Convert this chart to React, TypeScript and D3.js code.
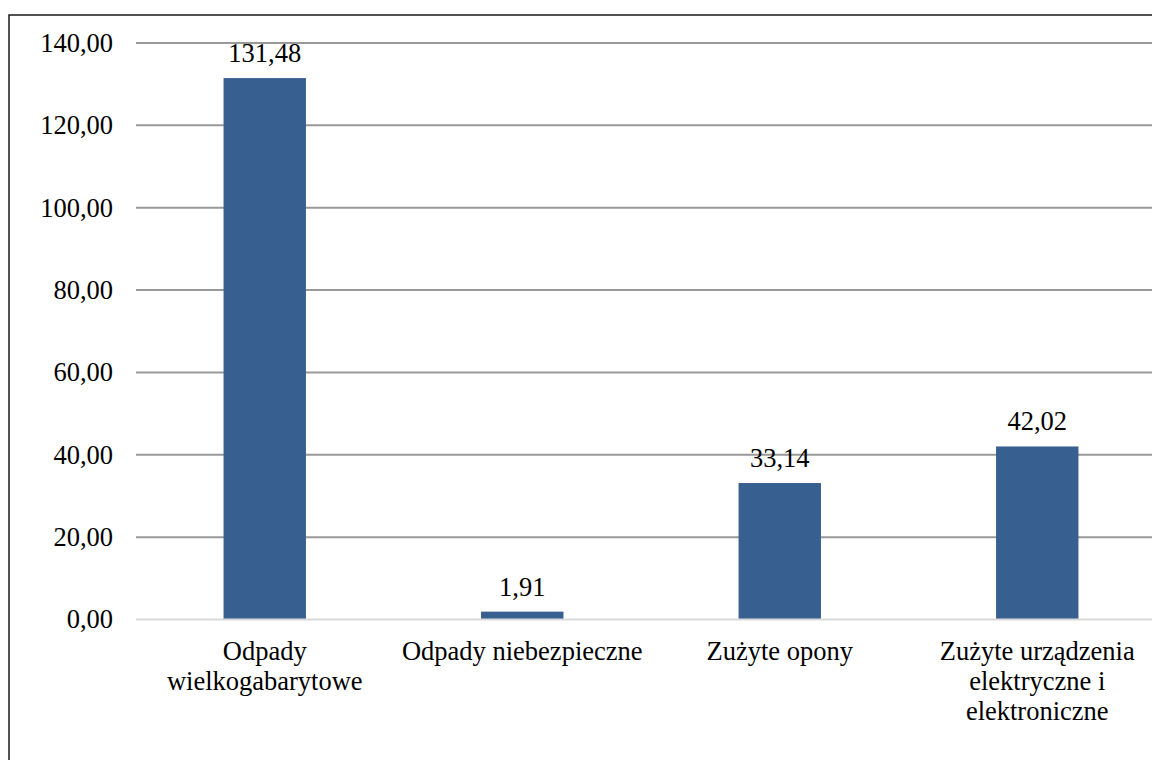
import React, { useEffect, useRef } from 'react';
import * as d3 from 'd3';

const categories = [
  'Odpady wielkogabarytowe',
  'Odpady niebezpieczne',
  'Zużyte opony',
  'Zużyte urządzenia elektryczne i elektroniczne',
];
// category label lines as wrapped in the picture
const categoryLines = [
  ['Odpady', 'wielkogabarytowe'],
  ['Odpady niebezpieczne'],
  ['Zużyte opony'],
  ['Zużyte urządzenia', 'elektryczne i', 'elektroniczne'],
];
const values = [131.48, 1.91, 33.14, 42.02];
const yTicks = [0, 20, 40, 60, 80, 100, 120, 140];

const width = 1152;
const height = 760;
const font = '"Liberation Serif", "Times New Roman", serif';
const fontSize = 26.5;

const plLocale = d3.formatLocale({
  decimal: ',',
  thousands: ' ',
  grouping: [3],
  currency: ['', ' zł'],
});
const fmt = plLocale.format('.2f');

export default function App() {
  const svgRef = useRef<SVGSVGElement>(null);

  useEffect(() => {
    if (!svgRef.current) return;
    const svg = d3.select(svgRef.current);
    svg.selectAll('*').remove();

    const left = 136;
    const right = 1166;
    const top = 43;
    const bottom = 619.5;

    const x = d3.scaleBand<string>()
      .domain(categories)
      .range([left, right])
      .paddingInner(0.68)
      .paddingOuter(0.34);

    const y = d3.scaleLinear().domain([0, 140]).range([bottom, top]);

    svg.append('rect')
      .attr('width', width)
      .attr('height', height)
      .attr('fill', '#ffffff');

    // outer frame
    svg.append('rect')
      .attr('x', 9)
      .attr('y', 15)
      .attr('width', width + 20)
      .attr('height', height + 20)
      .attr('fill', 'none')
      .attr('stroke', '#1a1a1a')
      .attr('stroke-width', 1.5);

    // grid lines
    svg.append('g')
      .selectAll('line')
      .data(yTicks.filter(t => t > 0))
      .enter().append('line')
      .attr('x1', left)
      .attr('x2', width)
      .attr('y1', d => y(d))
      .attr('y2', d => y(d))
      .attr('stroke', '#999999')
      .attr('stroke-width', 2);

    // bars
    svg.append('g')
      .selectAll('rect')
      .data(values)
      .enter().append('rect')
      .attr('x', (d, i) => x(categories[i])!)
      .attr('y', d => y(d))
      .attr('width', x.bandwidth())
      .attr('height', d => y(0) - y(d))
      .attr('fill', '#375f8f');

    // zero line
    svg.append('line')
      .attr('x1', left)
      .attr('x2', width)
      .attr('y1', y(0))
      .attr('y2', y(0))
      .attr('stroke', '#d9d9d9')
      .attr('stroke-width', 2);

    // y axis labels
    const yAxis = d3.axisLeft(y)
      .tickValues(yTicks)
      .tickSize(0)
      .tickPadding(23)
      .tickFormat(d => fmt(d as number));

    const ya = svg.append('g')
      .attr('transform', `translate(${left},0)`)
      .call(yAxis);
    ya.select('.domain').remove();
    ya.selectAll('text')
      .attr('font-family', font)
      .attr('font-size', fontSize)
      .attr('fill', '#000000');

    // value labels
    svg.append('g')
      .selectAll('text')
      .data(values)
      .enter().append('text')
      .attr('x', (d, i) => x(categories[i])! + x.bandwidth() / 2)
      .attr('y', d => y(d) - 16)
      .attr('text-anchor', 'middle')
      .attr('font-family', font)
      .attr('font-size', fontSize)
      .attr('fill', '#000000')
      .text(d => fmt(d));

    // category labels
    const cat = svg.append('g')
      .selectAll('text')
      .data(categoryLines)
      .enter().append('text')
      .attr('x', (d, i) => x(categories[i])! + x.bandwidth() / 2)
      .attr('y', y(0) + 40)
      .attr('text-anchor', 'middle')
      .attr('font-family', font)
      .attr('font-size', fontSize)
      .attr('fill', '#000000');
    cat.each(function (lines, i) {
      const t = d3.select(this);
      lines.forEach((line, j) => {
        t.append('tspan')
          .attr('x', x(categories[i])! + x.bandwidth() / 2)
          .attr('dy', j === 0 ? 0 : 30)
          .text(line);
      });
    });
  }, []);

  return (
    <div style={{ position: 'absolute', left: 0, top: 0 }}>
      <svg ref={svgRef} width={width} height={height} style={{ display: 'block' }} />
    </div>
  );
}
